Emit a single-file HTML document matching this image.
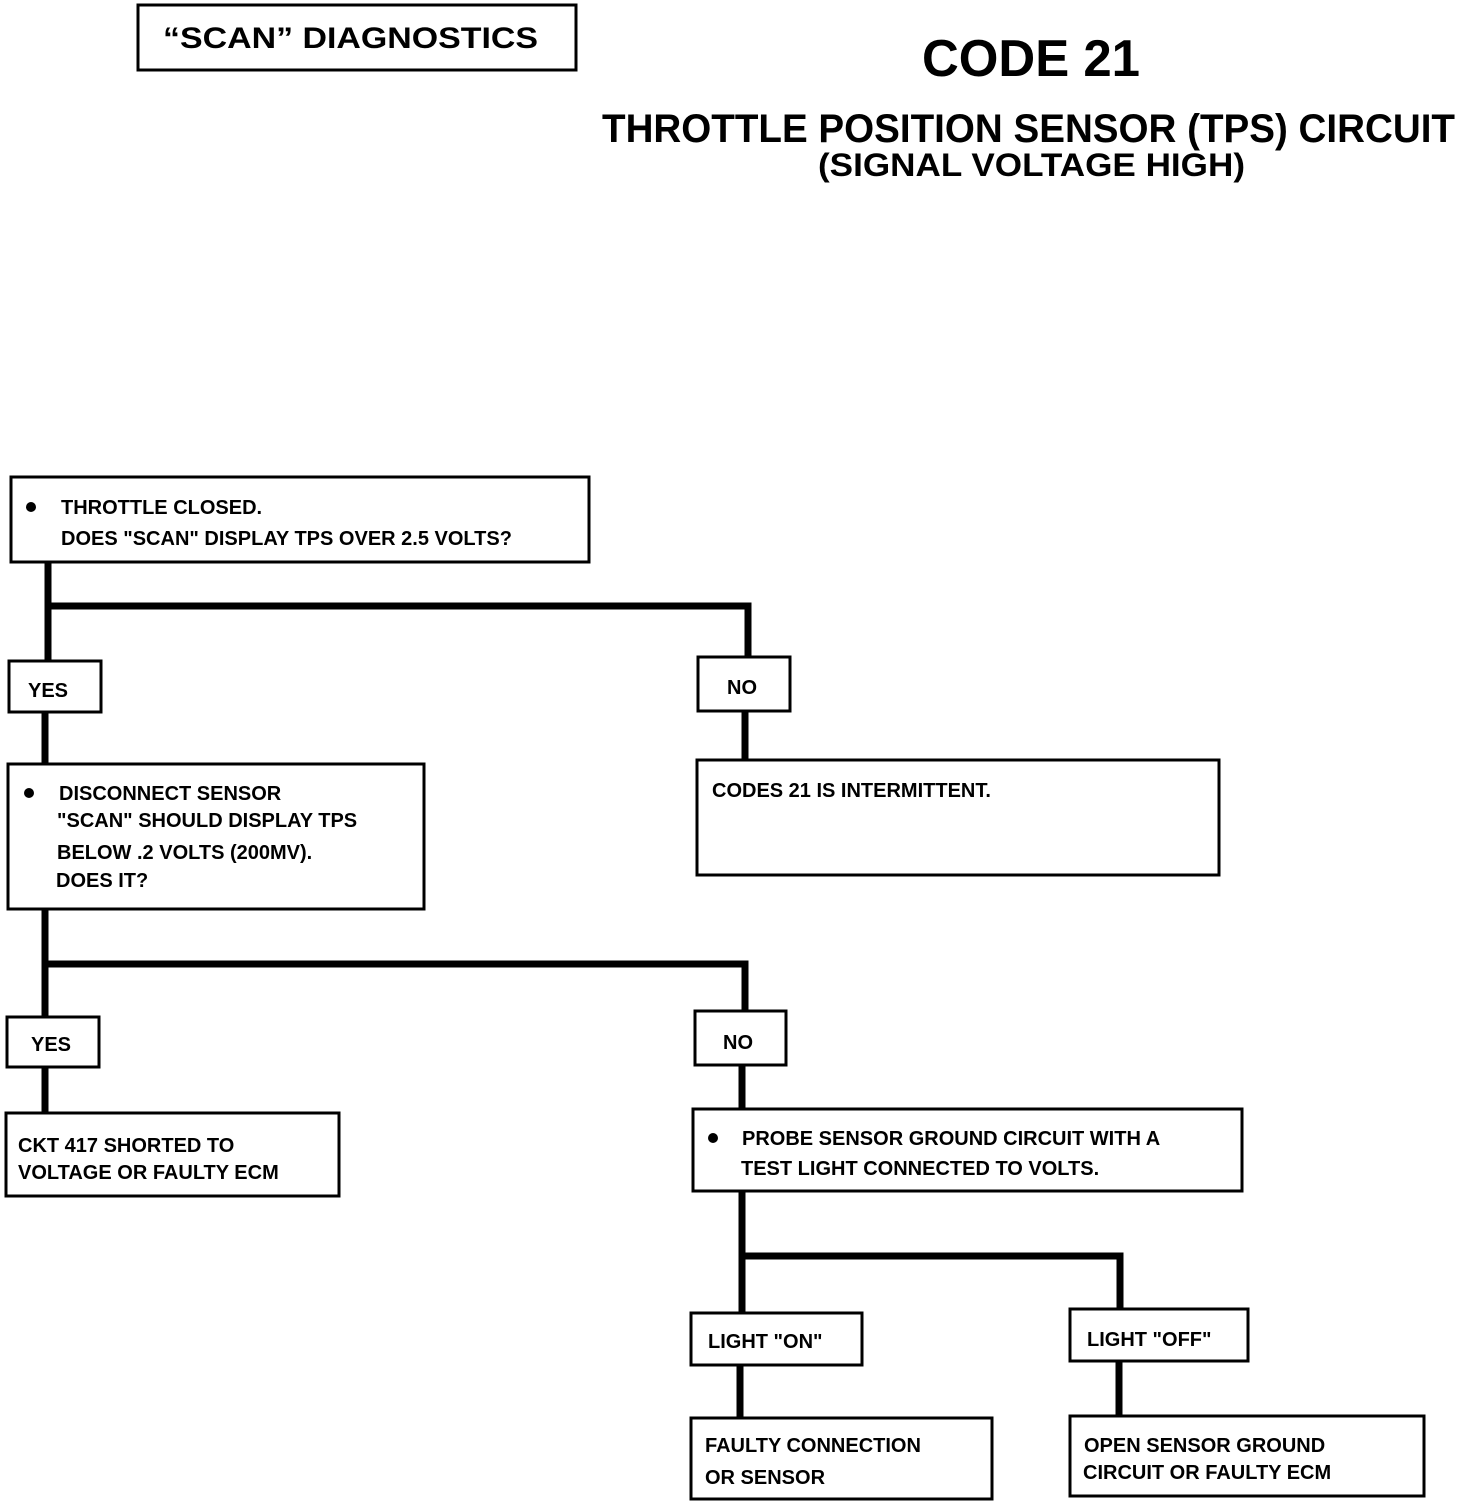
<!DOCTYPE html>
<html><head><meta charset="utf-8"><style>
html,body{margin:0;padding:0;background:#fff;}
svg{display:block;}
text{font-family:"Liberation Sans",sans-serif;font-weight:bold;fill:#000;}
</style></head><body>
<svg width="1472" height="1504" viewBox="0 0 1472 1504" xmlns="http://www.w3.org/2000/svg">
<g fill="none" stroke="#000" stroke-width="3">
<rect x="138" y="5" width="438" height="65"/>
<rect x="11" y="477" width="578" height="85"/>
<rect x="9" y="661" width="92" height="51"/>
<rect x="698" y="657" width="92" height="54"/>
<rect x="8" y="764" width="416" height="145"/>
<rect x="697" y="760" width="522" height="115"/>
<rect x="7" y="1017" width="92" height="50"/>
<rect x="695" y="1011" width="91" height="54"/>
<rect x="6" y="1113" width="333" height="83"/>
<rect x="693" y="1109" width="549" height="82"/>
<rect x="691" y="1313" width="171" height="52"/>
<rect x="1070" y="1309" width="178" height="52"/>
<rect x="691" y="1418" width="301" height="81"/>
<rect x="1070" y="1416" width="354" height="80"/>
</g>
<g fill="none" stroke="#000" stroke-width="7">
<polyline points="48,563 48,660"/>
<polyline points="48,606 748,606 748,656"/>
<polyline points="45,713 45,764"/>
<polyline points="745,712 745,760"/>
<polyline points="45,910 45,1016"/>
<polyline points="45,964 745,964 745,1010"/>
<polyline points="45,1068 45,1113"/>
<polyline points="742,1066 742,1108"/>
<polyline points="742,1192 742,1312"/>
<polyline points="742,1256 1120,1256 1120,1308"/>
<polyline points="740,1366 740,1418"/>
<polyline points="1119,1362 1119,1416"/>
</g>
<text x="163" y="48" font-size="30" textLength="375" lengthAdjust="spacingAndGlyphs">“SCAN” DIAGNOSTICS</text>
<text x="922" y="76" font-size="52" textLength="218" lengthAdjust="spacingAndGlyphs">CODE 21</text>
<text x="602" y="142" font-size="40" textLength="853" lengthAdjust="spacingAndGlyphs">THROTTLE POSITION SENSOR (TPS) CIRCUIT</text>
<text x="818" y="176" font-size="32" textLength="427" lengthAdjust="spacingAndGlyphs">(SIGNAL VOLTAGE HIGH)</text>
<g font-size="20">
<circle cx="31" cy="507" r="5"/>
<text x="61" y="514">THROTTLE CLOSED.</text>
<text x="61" y="545">DOES "SCAN" DISPLAY TPS OVER 2.5 VOLTS?</text>
<text x="28" y="697">YES</text>
<text x="727" y="694">NO</text>
<circle cx="29" cy="793" r="5"/>
<text x="59" y="800">DISCONNECT SENSOR</text>
<text x="57" y="827">"SCAN" SHOULD DISPLAY TPS</text>
<text x="57" y="859">BELOW .2 VOLTS (200MV).</text>
<text x="56" y="887">DOES IT?</text>
<text x="712" y="797">CODES 21 IS INTERMITTENT.</text>
<text x="31" y="1051">YES</text>
<text x="723" y="1049">NO</text>
<text x="18" y="1152">CKT 417 SHORTED TO</text>
<text x="18" y="1179">VOLTAGE OR FAULTY ECM</text>
<circle cx="713" cy="1138" r="5"/>
<text x="742" y="1145">PROBE SENSOR GROUND CIRCUIT WITH A</text>
<text x="741" y="1175">TEST LIGHT CONNECTED TO VOLTS.</text>
<text x="708" y="1348">LIGHT "ON"</text>
<text x="1087" y="1346">LIGHT "OFF"</text>
<text x="705" y="1452">FAULTY CONNECTION</text>
<text x="705" y="1484">OR SENSOR</text>
<text x="1084" y="1452">OPEN SENSOR GROUND</text>
<text x="1083" y="1479">CIRCUIT OR FAULTY ECM</text>
</g>
</svg>
</body></html>
